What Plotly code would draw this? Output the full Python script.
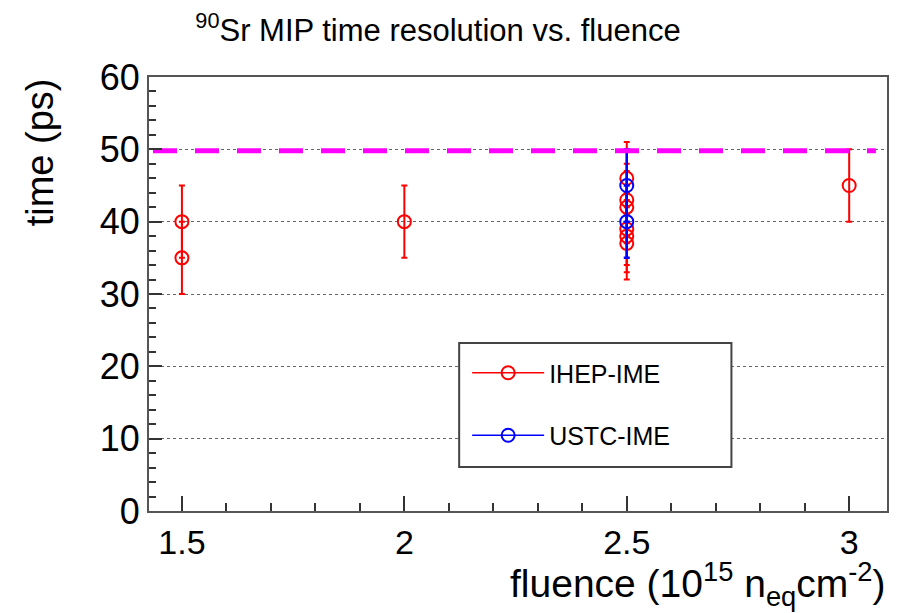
import plotly.graph_objects as go

# ---- data ----
ihep_x = [1.5, 1.5, 2.0, 2.5, 2.5, 2.5, 2.5, 2.5, 2.5, 3.0]
ihep_y = [40, 35, 40, 46, 43, 42, 39, 38, 37, 45]
ihep_err = [5, 5, 5, 5, 5, 5, 5, 5, 5, 5]

ustc_x = [2.5, 2.5]
ustc_y = [45, 40]
ustc_err = [5, 5]

req_x = [1.435, 3.06]
req_y = [49.8, 49.8]

x_ticks = [1.5, 2.0, 2.5, 3.0]
x_ticktext = ["1.5", "2", "2.5", "3"]
y_ticks = [0, 10, 20, 30, 40, 50, 60]

FONT = "Liberation Sans, Arial, Helvetica, sans-serif"
RED = "#ff0000"
BLUE = "#0000ff"
MAG = "#ff00ff"

fig = go.Figure()

fig.add_trace(go.Scatter(
    x=ihep_x, y=ihep_y, mode="markers", showlegend=False,
    marker=dict(symbol="circle-open", size=13, color=RED, line=dict(width=2, color=RED)),
    error_y=dict(type="data", array=ihep_err, visible=True, color=RED, thickness=2, width=3),
))
fig.add_trace(go.Scatter(
    x=ustc_x, y=ustc_y, mode="markers", showlegend=False,
    marker=dict(symbol="circle-open", size=13, color=BLUE, line=dict(width=2, color=BLUE)),
    error_y=dict(type="data", array=ustc_err, visible=True, color=BLUE, thickness=2.5, width=3),
))
fig.add_trace(go.Scatter(
    x=req_x, y=req_y, mode="lines", showlegend=False,
    line=dict(color=MAG, width=5, dash="24px,18px"),
))

# legend-only entries
fig.add_trace(go.Scatter(
    x=[None], y=[None], mode="lines+markers", name="IHEP-IME", legendgroup="a",
    line=dict(color=RED, width=1.5),
    marker=dict(symbol="circle-open", size=13, color=RED, line=dict(width=2, color=RED)),
))
fig.add_trace(go.Scatter(
    x=[None], y=[None], mode="lines+markers", name="USTC-IME", legendgroup="b",
    line=dict(color=BLUE, width=1.5),
    marker=dict(symbol="circle-open", size=13, color=BLUE, line=dict(width=2, color=BLUE)),
))

W, H = 899, 613
L, R, T, B = 149, 10, 77, 102
pw, ph = W - L - R, H - T - B

def px_x(p):
    return (p - L) / pw

def px_y(p):
    return (H - B - p) / ph

fig.add_shape(type="rect", xref="paper", yref="paper",
              x0=px_x(460), x1=px_x(733), y0=px_y(467), y1=px_y(343),
              line=dict(color="#444", width=2), fillcolor="white", layer="above")

fig.add_annotation(text="time (ps)", xref="paper", yref="paper",
                   x=px_x(40), y=px_y(152), textangle=-90, showarrow=False,
                   xanchor="center", yanchor="middle",
                   font=dict(family=FONT, size=38, color="black"))
fig.add_annotation(text="fluence (10<sup>15</sup> n<sub>eq</sub>cm<sup>-2</sup>)",
                   xref="paper", yref="paper", x=px_x(890), y=px_y(584),
                   showarrow=False, xanchor="right", yanchor="middle",
                   font=dict(family=FONT, size=39, color="black"))

fig.update_layout(
    width=W, height=H,
    margin=dict(l=L, r=R, t=T, b=B),
    paper_bgcolor="white", plot_bgcolor="white",
    font=dict(family=FONT, color="black"),
    title=dict(text="<sup>90</sup>Sr MIP time resolution vs. fluence",
               x=438 / W, xref="container", xanchor="center",
               y=1 - 30 / H, yref="container", yanchor="middle",
               font=dict(family=FONT, size=31, color="black")),
    legend=dict(x=px_x(468), y=px_y(350), xanchor="left", yanchor="top",
                bgcolor="rgba(0,0,0,0)", borderwidth=0,
                font=dict(family=FONT, size=25, color="black"),
                itemwidth=72, tracegroupgap=27),
    xaxis=dict(range=[1.426, 3.085], tickvals=x_ticks, ticktext=x_ticktext,
               ticks="inside", ticklen=15, tickwidth=1.5, tickcolor="#333",
               minor=dict(ticks="inside", ticklen=8, dtick=0.1, tick0=1.5,
                          tickcolor="#333", tickwidth=1.5, showgrid=False),
               showgrid=False, zeroline=False, showline=True, mirror=True,
               linecolor="#555", linewidth=2,
               tickfont=dict(family=FONT, size=34, color="black")),
    yaxis=dict(range=[0, 60], tickvals=y_ticks,
               ticks="inside", ticklen=13, tickwidth=1.5, tickcolor="#333",
               minor=dict(ticks="inside", ticklen=7, dtick=2, tick0=0,
                          tickcolor="#333", tickwidth=1.5, showgrid=False),
               showgrid=True, gridcolor="#666", gridwidth=1, griddash="dot",
               zeroline=False, showline=True, mirror=True,
               linecolor="#555", linewidth=2,
               tickfont=dict(family=FONT, size=36, color="black")),
)

fig.write_html("out.html")
